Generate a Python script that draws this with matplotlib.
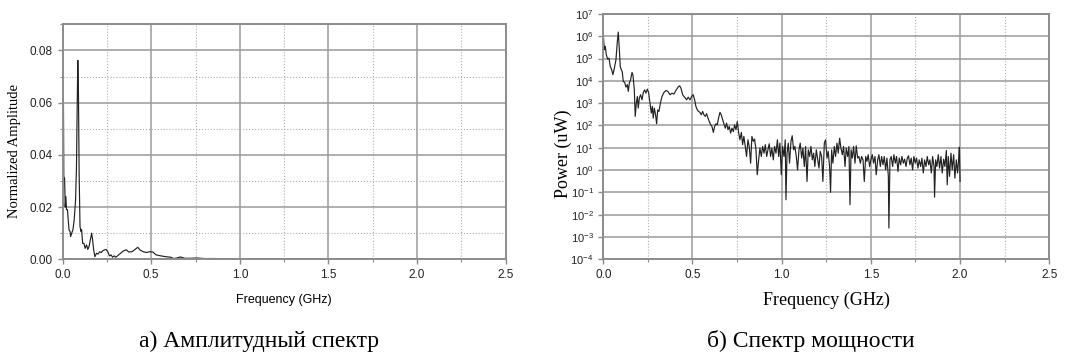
import numpy as np
import matplotlib
matplotlib.use("Agg")
import matplotlib.pyplot as plt
from matplotlib.ticker import MultipleLocator, LogLocator, LogFormatterMathtext, FormatStrFormatter

# amplitude spectrum (left panel)
amp_freq = [0.0045, 0.0065, 0.011, 0.0145, 0.018, 0.022, 0.027, 0.033, 0.036, 0.042,
            0.045, 0.051, 0.058, 0.065, 0.073, 0.078, 0.082, 0.0855, 0.089, 0.093,
            0.098, 0.104, 0.107, 0.113, 0.12, 0.127, 0.135, 0.142, 0.149, 0.156,
            0.164, 0.169, 0.175, 0.182, 0.191, 0.2, 0.209, 0.218, 0.227, 0.236,
            0.245, 0.255, 0.264, 0.273, 0.282, 0.291, 0.3, 0.309, 0.327, 0.345,
            0.36, 0.373, 0.391, 0.409, 0.424, 0.436, 0.455, 0.473, 0.491, 0.509,
            0.527, 0.555, 0.582, 0.609, 0.627, 0.645, 0.664, 0.69, 0.727, 0.755,
            0.8, 0.855, 0.927, 1.0, 1.2, 1.4, 1.6, 1.8, 2.0]
amp_val = [0.0598, 0.0317, 0.031, 0.020, 0.024, 0.019, 0.019, 0.0138, 0.0113, 0.0106,
           0.0087, 0.010, 0.0113, 0.015, 0.0228, 0.0355, 0.0585, 0.0762, 0.065, 0.033,
           0.0125, 0.0106, 0.0113, 0.0061, 0.0061, 0.0042, 0.0055, 0.0038, 0.0049, 0.0074,
           0.010, 0.0074, 0.0036, 0.001, 0.0023, 0.002, 0.0029, 0.0026, 0.0033, 0.0036,
           0.0038, 0.0029, 0.0013, 0.0017, 0.0008, 0.0013, 0.0008, 0.0013, 0.0023, 0.0033,
           0.0036, 0.0028, 0.0029, 0.0038, 0.0046, 0.0036, 0.0029, 0.0026, 0.0029, 0.0028,
           0.0017, 0.0013, 0.001, 0.0008, 0.0003, 0.0005, 0.0009, 0.0004, 0.0004, 0.0005,
           0.0003, 0.0003, 0.0001, 0.0001, 0.0001, 0.0001, 0.0001, 0.0001, 0.0001]

# power spectrum (right panel), exponent of power in uW
pow_freq = [0.0, 0.006, 0.011, 0.017, 0.024, 0.032, 0.039, 0.047, 0.054, 0.062,
            0.071, 0.078, 0.084, 0.09, 0.095, 0.101, 0.106, 0.112, 0.12, 0.127,
            0.135, 0.14, 0.146, 0.153, 0.161, 0.166, 0.174, 0.179, 0.185, 0.191,
            0.196, 0.202, 0.209, 0.217, 0.224, 0.232, 0.239, 0.247, 0.254, 0.262,
            0.269, 0.275, 0.28, 0.286, 0.293, 0.299, 0.305, 0.312, 0.32, 0.329,
            0.34, 0.351, 0.362, 0.374, 0.385, 0.396, 0.407, 0.419, 0.428, 0.435,
            0.445, 0.452, 0.46, 0.467, 0.476, 0.486, 0.495, 0.504, 0.512, 0.519,
            0.527, 0.534, 0.542, 0.549, 0.557, 0.564, 0.572, 0.579, 0.587, 0.594,
            0.602, 0.609, 0.617, 0.624, 0.632, 0.639, 0.646, 0.654, 0.661, 0.669,
            0.676, 0.684, 0.691, 0.699, 0.706, 0.714, 0.721, 0.729, 0.736, 0.744,
            0.751, 0.759, 0.766, 0.774, 0.781, 0.788, 0.796, 0.803, 0.811, 0.818,
            0.826, 0.833, 0.841, 0.848, 0.856, 0.863, 0.871, 0.878, 0.886, 0.893,
            0.901, 0.908, 0.916, 0.923, 0.93, 0.938, 0.945, 0.953, 0.96, 0.968,
            0.976, 0.983, 0.99, 0.998, 1.005, 1.013, 1.02, 1.024, 1.03, 1.037,
            1.044, 1.052, 1.059, 1.067, 1.074, 1.082, 1.089, 1.097, 1.104, 1.112,
            1.119, 1.127, 1.134, 1.142, 1.149, 1.157, 1.164, 1.172, 1.179, 1.186,
            1.194, 1.201, 1.209, 1.216, 1.224, 1.231, 1.239, 1.246, 1.254, 1.261,
            1.269, 1.274, 1.28, 1.287, 1.295, 1.302, 1.31, 1.317, 1.325, 1.332,
            1.34, 1.347, 1.355, 1.362, 1.37, 1.377, 1.383, 1.389, 1.396, 1.403,
            1.411, 1.418, 1.426, 1.433, 1.441, 1.448, 1.456, 1.463, 1.471, 1.478,
            1.485, 1.493, 1.5, 1.508, 1.515, 1.523, 1.53, 1.538, 1.545, 1.553,
            1.56, 1.568, 1.575, 1.583, 1.59, 1.598, 1.601, 1.607, 1.614, 1.622,
            1.629, 1.637, 1.644, 1.652, 1.659, 1.667, 1.674, 1.682, 1.689, 1.697,
            1.704, 1.711, 1.719, 1.726, 1.734, 1.741, 1.749, 1.756, 1.764, 1.771,
            1.779, 1.786, 1.794, 1.801, 1.809, 1.816, 1.824, 1.831, 1.839, 1.846,
            1.854, 1.857, 1.863, 1.87, 1.878, 1.885, 1.893, 1.9, 1.908, 1.915,
            1.923, 1.928, 1.934, 1.941, 1.949, 1.956, 1.964, 1.971, 1.979, 1.986,
            1.992, 1.996, 2.0]
pow_exp = [6.07, 5.4, 5.55, 5.17, 4.98, 5.02, 4.65, 4.5, 4.28, 4.57,
           4.95, 5.7, 6.19, 5.4, 4.65, 4.5, 4.42, 3.98, 3.93, 3.72,
           3.83, 3.53, 3.9, 4.05, 4.38, 4.28, 3.6, 2.41, 3.0, 3.3,
           2.78, 3.23, 3.38, 3.15, 3.48, 3.6, 3.45, 3.63, 3.48, 3.0,
           2.56, 2.86, 2.33, 2.78, 2.48, 2.08, 2.7, 2.63, 3.0, 3.3,
           3.48, 3.57, 3.53, 3.38, 3.45, 3.41, 3.57, 3.72, 3.78, 3.68,
           3.38, 3.3, 3.23, 3.15, 3.27, 3.15, 3.3, 3.38, 3.15, 2.86,
           2.7, 2.63, 2.59, 2.48, 2.63, 2.48, 2.41, 2.53, 2.33, 2.18,
           2.03, 1.96, 1.69, 1.96, 2.08, 2.03, 2.33, 2.59, 2.48, 2.26,
           2.08, 1.88, 2.11, 1.81, 1.96, 1.66, 1.88, 1.73, 2.03, 1.81,
           2.18, 1.66, 1.36, 1.69, 1.14, 1.51, 1.06, 0.61, 1.36, 1.06,
           0.31, 1.51, 1.29, 1.39, 0.91, -0.21, 0.46, 0.99, 0.61, 1.06,
           0.76, 1.14, 0.61, 0.91, 1.18, 0.61, 0.99, 0.46, 1.06, 0.76,
           1.36, 0.61, 1.21, -0.21, 1.06, 0.61, 1.36, -1.33, 0.76, 1.21,
           0.31, 1.29, 1.54, 0.91, 1.06, 0.61, 0.01, 0.91, 1.21, 0.54,
           0.99, 0.16, 1.06, -0.51, 0.91, 0.61, 1.06, 0.46, 0.76, 0.16,
           0.91, 0.54, 0.09, 0.84, 0.61, -0.51, 1.21, 1.36, 0.54, 0.84,
           0.09, -1.0, 0.91, 0.31, 1.06, 0.61, 1.21, 0.76, 1.43, 0.99,
           0.69, 1.06, 0.16, 0.99, 0.61, 1.06, -1.55, 0.91, 0.54, 1.06,
           0.31, 1.09, 0.54, 0.61, 0.31, 0.61, 0.46, -0.51, 0.61, 0.39,
           0.69, 0.16, 0.46, 0.69, 0.31, 0.61, -0.21, 0.46, 0.69, 0.16,
           0.61, 0.24, 0.61, 0.01, 0.54, -0.28, -2.6, 0.46, 0.61, 0.16,
           0.69, 0.31, 0.61, -0.06, 0.54, 0.24, 0.61, 0.31, 0.49, 0.16,
           0.54, 0.64, 0.24, 0.54, 0.01, 0.61, 0.31, 0.54, 0.09, 0.46,
           0.16, 0.54, -0.13, 0.46, 0.16, 0.61, 0.24, 0.46, -0.13, 0.61,
           0.16, -1.21, 0.46, 0.16, 0.69, 0.09, 0.61, -0.13, 0.49, 0.16,
           0.88, -0.66, 0.61, -0.28, 0.76, 0.01, 0.69, -0.36, 0.46, -0.13,
           0.46, 1.03, -0.51]

captions = ["а) Амплитудный спектр", "б) Спектр мощности"]

serif = "Liberation Serif"
sans = "Liberation Sans"
plt.rcParams['mathtext.fontset'] = 'custom'
plt.rcParams['mathtext.rm'] = sans
plt.rcParams['mathtext.it'] = sans

fig = plt.figure(figsize=(10.71, 3.58), dpi=100)
ax1 = fig.add_axes([0.0585, 0.2757, 0.4136, 0.6564])
ax2 = fig.add_axes([0.5633, 0.2757, 0.4164, 0.6852])

line_c = '#222222'
frame_c = '#8c8c8c'


def style(ax):
    for s in ax.spines.values():
        s.set_color(frame_c)
        s.set_linewidth(1.4)
    ax.set_xlim(0, 2.5)
    ax.xaxis.set_major_locator(MultipleLocator(0.5))
    ax.xaxis.set_minor_locator(MultipleLocator(0.25))
    ax.xaxis.set_major_formatter(FormatStrFormatter('%.1f'))
    ax.grid(which='major', color='#9a9a9a', linewidth=1.1, linestyle='-')
    ax.grid(which='minor', axis='x', color='#b0b0b0', linewidth=0.8, linestyle=':')
    ax.tick_params(which='both', direction='out', color=frame_c, labelsize=8.5,
                   labelcolor='#222222')
    ax.tick_params(which='major', length=3.5, width=1)
    ax.tick_params(which='minor', length=2, width=0.8)
    for lab in ax.get_xticklabels() + ax.get_yticklabels():
        lab.set_family(sans)
    ax.set_axisbelow(True)


ax1.plot(amp_freq, amp_val, color=line_c, linewidth=0.85)
style(ax1)
ax1.set_ylim(0, 0.09)
ax1.yaxis.set_major_locator(MultipleLocator(0.02))
ax1.yaxis.set_minor_locator(MultipleLocator(0.01))
ax1.yaxis.set_major_formatter(FormatStrFormatter('%.2f'))
ax1.grid(which='minor', axis='y', color='#b0b0b0', linewidth=0.8, linestyle=':')
for lab in ax1.get_yticklabels():
    lab.set_family(sans)
ax1.set_xlabel("Frequency (GHz)", family=sans, fontsize=9, labelpad=9)
ax1.set_ylabel("Normalized Amplitude", family=serif, fontsize=10.5)
ax1.yaxis.set_label_coords(-0.095, 0.46)

ax2.plot(pow_freq, 10 ** np.array(pow_exp), color=line_c, linewidth=0.85)
ax2.set_yscale('log')
style(ax2)
ax2.set_ylim(1e-4, 1e7)
ax2.yaxis.set_major_locator(LogLocator(base=10, numticks=20))
ax2.yaxis.set_minor_locator(plt.NullLocator())
ax2.yaxis.set_major_formatter(LogFormatterMathtext())
ax2.tick_params(axis='y', labelsize=8)
ax2.set_xlabel("Frequency (GHz)", family=serif, fontsize=13, labelpad=8)
ax2.set_ylabel("Power (uW)", family=serif, fontsize=13)
ax2.yaxis.set_label_coords(-0.07, 0.43)

fig.text(0.242, 0.03, captions[0], family=serif, fontsize=17, ha='center', va='baseline')
fig.text(0.757, 0.03, captions[1], family=serif, fontsize=17, ha='center', va='baseline')

fig.savefig("out.png", dpi=100)
